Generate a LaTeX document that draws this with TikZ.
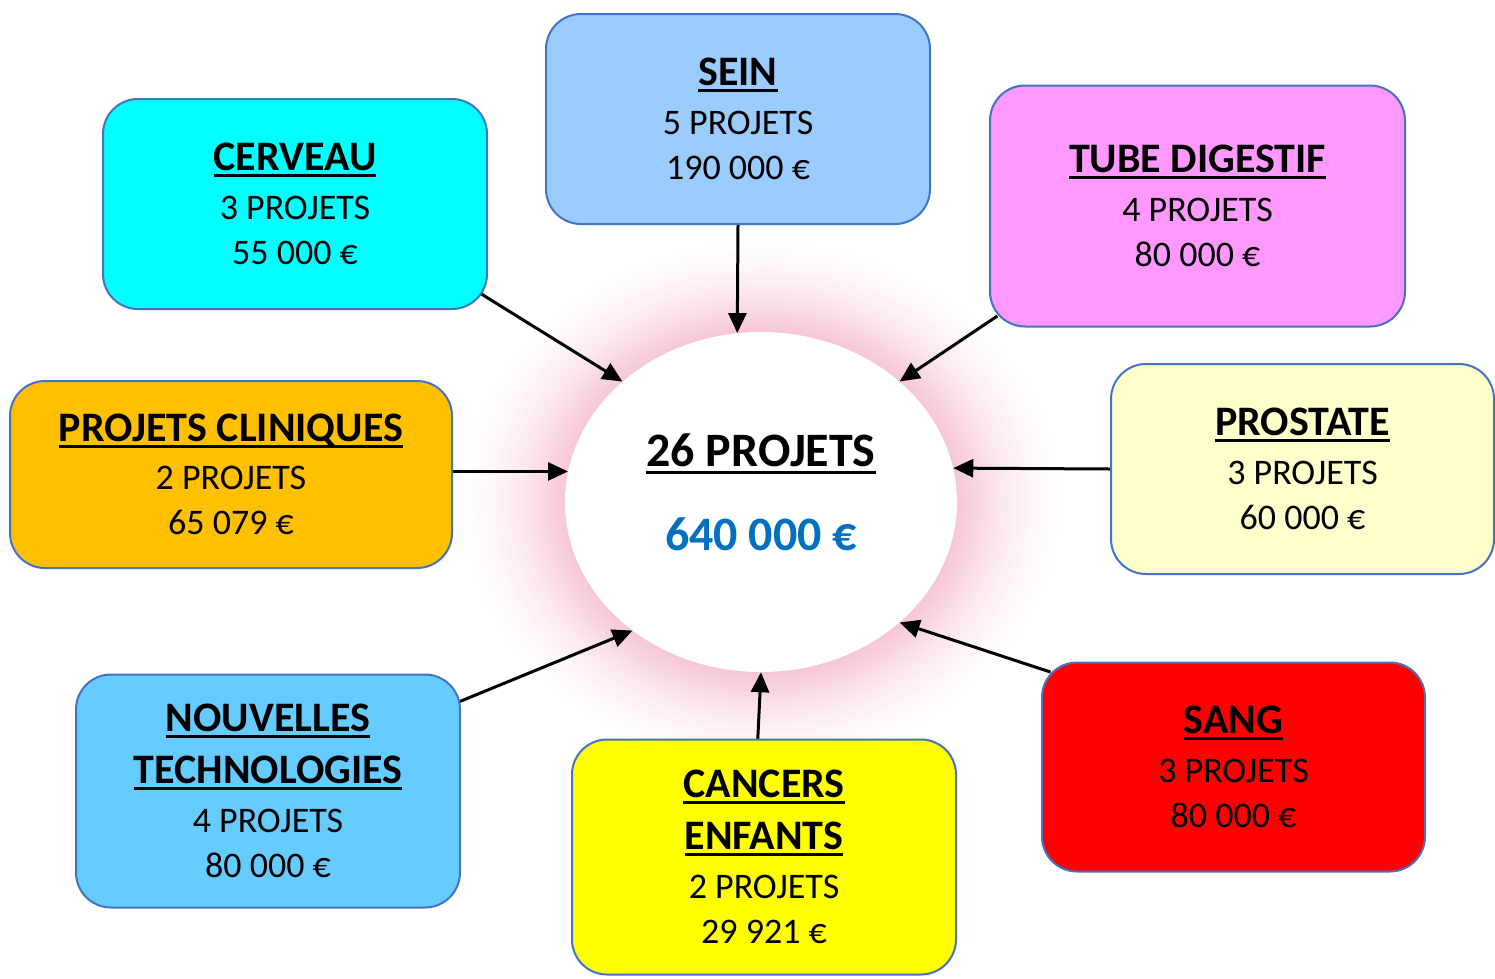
\documentclass[tikz,border=0pt]{standalone}
\usepackage{fontspec}
\setmainfont{Carlito}
\usetikzlibrary{shapes.geometric,arrows.meta,backgrounds}

\definecolor{bord}{RGB}{68,114,196}
\definecolor{bleu}{RGB}{0,112,192}
\definecolor{rosehalo}{RGB}{247,196,215}
\definecolor{cyanvif}{RGB}{0,255,255}
\definecolor{bleuciel}{RGB}{155,204,255}
\definecolor{mauve}{RGB}{255,153,255}
\definecolor{orange}{RGB}{255,192,0}
\definecolor{creme}{RGB}{255,255,204}
\definecolor{azur}{RGB}{102,204,255}
\definecolor{jaune}{RGB}{255,255,0}
\definecolor{rouge}{RGB}{255,0,0}

\newcommand{\souligne}[1]{\sbox0{\bfseries #1}\rlap{\rule[-0.16em]{\wd0}{0.07em}}\usebox0}
\newcommand{\titre}[1]{{\fontsize{42}{51}\selectfont\souligne{#1}}}

\pgfdeclareradialshading{halo}{\pgfpoint{0bp}{0bp}}{color(0bp)=(rosehalo);color(16bp)=(rosehalo);
    color(18bp)=(rosehalo!70);color(20bp)=(rosehalo!40);color(22.5bp)=(rosehalo!15);color(25bp)=(white);color(50bp)=(white)}

\begin{document}
\begin{tikzpicture}[x=1pt,y=-1pt,
    boite/.style={draw=bord,line width=2pt,rounded corners=35pt,inner sep=0pt,align=center,
        minimum width=384pt,minimum height=210pt,font=\fontsize{36}{45}\selectfont},
    fleche/.style={-{Triangle[length=20pt,width=18pt]},line width=3pt,shorten <=-10pt}]
    \useasboundingbox (0,0) rectangle (1495,978);

    % les cases
    \node[boite,fill=cyanvif] (cerveau) at (295,204) {\titre{CERVEAU}\\[4pt]3 PROJETS\\55 000 €};
    \node[boite,fill=bleuciel] (sein) at (738,119) {\titre{SEIN}\\[4pt]5 PROJETS\\190 000 €};
    \node[boite,fill=mauve,minimum width=415pt,minimum height=241pt] (tube) at (1197.5,206) {\titre{TUBE DIGESTIF}\\[4pt]4 PROJETS\\80 000 €};
    \node[boite,fill=orange,minimum width=442pt,minimum height=187pt] (cliniques) at (231,474.5) {\titre{PROJETS CLINIQUES}\\[3pt]2 PROJETS\\65 079 €};
    \node[boite,fill=creme,minimum width=383pt] (prostate) at (1302.5,469) {\titre{PROSTATE}\\[4pt]3 PROJETS\\60 000 €};
    \node[boite,fill=azur,minimum height=233pt] (nouvelles) at (268,791) {\titre{NOUVELLES}\\[7pt]\titre{TECHNOLOGIES}\\[4pt]4 PROJETS\\80 000 €};
    \node[boite,fill=jaune,minimum height=235pt] (cancers) at (764,857) {\titre{CANCERS}\\[7pt]\titre{ENFANTS}\\[4pt]2 PROJETS\\29 921 €};
    \node[boite,fill=rouge,minimum width=383pt,minimum height=209pt] (sang) at (1233.5,767) {\titre{SANG}\\[4pt]3 PROJETS\\80 000 €};

    % le total au centre
    \node[ellipse,fill=white,inner sep=0pt,minimum width=392pt,minimum height=340pt,
        label={[yshift=10pt,align=center,font=\fontsize{48}{58}\selectfont\bfseries]center:
        \souligne{26 PROJETS}\\[26pt]\textcolor{bleu}{640 000 €}}] (centre) at (761,502) {};

    \begin{pgfonlayer}{background}
        \shade[shading=halo] (centre.center) ellipse [x radius=300, y radius=262];
        \draw[fleche] (cerveau.-26) -- (centre.139);
        \draw[fleche] (sein.south) -- (centre.98);
        \draw[fleche] (tube.209) -- (centre.41);
        \draw[fleche] (cliniques.east |- centre.171) -- (centre.171);
        \draw[fleche] (prostate.west) -- (centre.10);
        \draw[fleche] (nouvelles.25) -- (centre.225);
        \draw[fleche] (cancers.93) -- (centre.270);
        \draw[fleche] (sang.153) -- (centre.319);
    \end{pgfonlayer}
\end{tikzpicture}
\end{document}
